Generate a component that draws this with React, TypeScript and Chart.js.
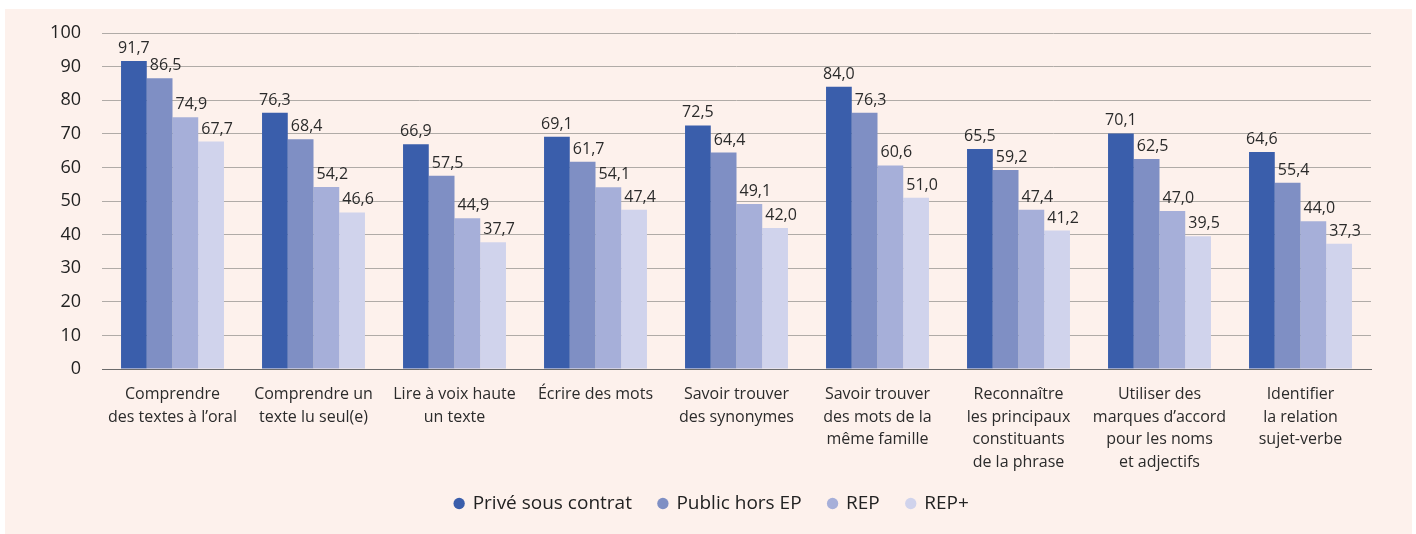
import React, { useEffect, useRef } from "react";
import { Chart, registerables } from "chart.js";

Chart.register(...registerables);

const categories: string[][] = [
  ["Comprendre", "des textes à l’oral"],
  ["Comprendre un", "texte lu seul(e)"],
  ["Lire à voix haute", "un texte"],
  ["Écrire des mots"],
  ["Savoir trouver", "des synonymes"],
  ["Savoir trouver", "des mots de la", "même famille"],
  ["Reconnaître", "les principaux", "constituants", "de la phrase"],
  ["Utiliser des", "marques d’accord", "pour les noms", "et adjectifs"],
  ["Identifier", "la relation", "sujet-verbe"],
];

const seriesNames = ["Privé sous contrat", "Public hors EP", "REP", "REP+"];

const prive = [91.7, 76.3, 66.9, 69.1, 72.5, 84.0, 65.5, 70.1, 64.6];
const publicHorsEP = [86.5, 68.4, 57.5, 61.7, 64.4, 76.3, 59.2, 62.5, 55.4];
const rep = [74.9, 54.2, 44.9, 54.1, 49.1, 60.6, 47.4, 47.0, 44.0];
const repPlus = [67.7, 46.6, 37.7, 47.4, 42.0, 51.0, 41.2, 39.5, 37.3];

const colors = ["#3a5eab", "#7f8fc4", "#a6afd9", "#d0d3ec"];

const FONT = "'Open Sans', sans-serif";

const labelPlugin = {
  id: "valueLabels",
  afterDatasetsDraw(chart: any) {
    const ctx = chart.ctx;
    ctx.save();
    ctx.font = `16px ${FONT}`;
    ctx.fillStyle = "#2b2b2b";
    ctx.textAlign = "center";
    ctx.textBaseline = "alphabetic";
    chart.data.datasets.forEach((ds: any, di: number) => {
      const meta = chart.getDatasetMeta(di);
      meta.data.forEach((el: any, i: number) => {
        const v = ds.data[i] as number;
        const txt = v.toFixed(1).replace(".", ",");
        const dx = di === 0 ? 0 : 6;
        ctx.fillText(txt, el.x + dx, el.y - 8);
      });
    });
    ctx.restore();
  },
};

// shift the legend box so it is centred on the page like the reference
const legendPlace = {
  id: "legendPlace",
  afterLayout(chart: any) {
    const lg = chart.legend;
    if (!lg) return;
    const dx = 24;
    const h = lg.height;
    lg.left += dx;
    lg.right += dx;
    const top = chart.chartArea.bottom + 98;
    lg.top = top;
    lg.bottom = top + h;
  },
};

export default function App() {
  const ref = useRef<HTMLCanvasElement>(null);
  useEffect(() => {
    document.body.style.margin = "0";
    const allData = [prive, publicHorsEP, rep, repPlus];
    const chart = new Chart(ref.current as HTMLCanvasElement, {
      type: "bar",
      data: {
        labels: categories as any,
        datasets: allData.map((d, i) => ({
          label: seriesNames[i],
          data: d,
          backgroundColor: colors[i],
          borderWidth: 0,
          barPercentage: 1,
          categoryPercentage: 0.73,
        })),
      },
      options: {
        animation: false,
        responsive: true,
        maintainAspectRatio: false,
        layout: { padding: { top: 24, right: 41, bottom: 0, left: 0 } },
        plugins: {
          tooltip: { enabled: false },
          legend: {
            position: "bottom",
            labels: {
              usePointStyle: true,
              pointStyle: "circle",
              boxWidth: 8,
              boxHeight: 8,
              padding: 27,
              color: "#222",
              font: { family: FONT, size: 19 },
            },
          },
        },
        scales: {
          x: {
            grid: { display: false },
            border: { display: true, color: "#6b6b6b", width: 1 },
            ticks: {
              color: "#2b2b2b",
              font: { family: FONT, size: 16, lineHeight: 1.42 },
              maxRotation: 0,
              autoSkip: false,
              padding: 6,
            },
            afterFit: (s: any) => {
              s.height = 109;
            },
          },
          y: {
            min: 0,
            max: 100,
            ticks: {
              stepSize: 10,
              color: "#222",
              font: { family: FONT, size: 18 },
              padding: 21,
            },
            grid: {
              drawTicks: false,
              color: (c: any) => (c.tick && c.tick.value === 0 ? "#6b6b6b" : "#b0aba7"),
              lineWidth: 1,
            },
            border: { display: false },
            afterFit: (s: any) => {
              s.width = 97;
              s.paddingTop = 0;
              s.paddingBottom = 0;
            },
          },
        },
      },
      plugins: [labelPlugin, legendPlace],
    });
    return () => chart.destroy();
  }, []);

  return (
    <div style={{ position: "relative", width: 1416, height: 534, background: "#ffffff" }}>
      <div
        style={{
          position: "absolute",
          left: 5,
          top: 9,
          width: 1407,
          height: 525,
          background: "#fdf1ec",
        }}
      >
        <canvas ref={ref} />
      </div>
    </div>
  );
}
